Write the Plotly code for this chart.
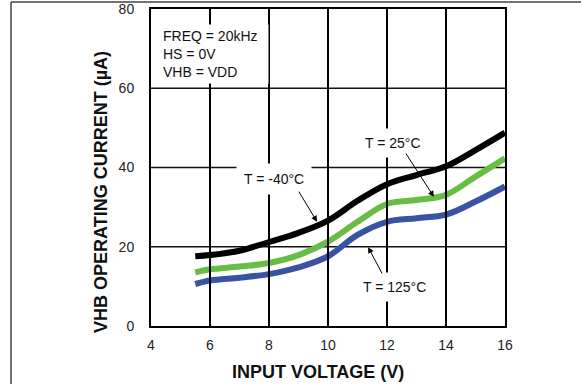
import plotly.graph_objects as go

# ---- data ----
input_voltage = [5.5, 6, 7, 8, 9, 10, 11, 12, 13, 14, 15, 16]
current_m40 = [17.6, 17.9, 19.0, 21.2, 23.5, 26.6, 31.6, 35.8, 38.1, 40.3, 44.4, 48.8]
current_25 = [13.5, 14.3, 15.0, 15.9, 17.9, 21.3, 26.3, 30.8, 31.8, 33.1, 37.7, 42.3]
current_125 = [10.6, 11.5, 12.2, 13.1, 14.8, 17.6, 23.0, 26.3, 27.2, 28.1, 31.4, 35.2]

x_ticks = [4, 6, 8, 10, 12, 14, 16]
y_ticks = [0, 20, 40, 60, 80]

W, H = 581, 384
L, R, T, B = 151, 76, 9, 58
PW, PH = W - L - R, H - T - B
X_PER_PX = (x_ticks[-1] - x_ticks[0]) / PW


def px_x(p):
    return (p - L) / PW


def px_y(p):
    return (H - B - p) / PH


FONT = "Liberation Sans, Arial, sans-serif"

fig = go.Figure()

series = [
    (current_m40, "#000000", "T = -40°C"),
    (current_25, "#69bd45", "T = 25°C"),
    (current_125, "#3953a4", "T = 125°C"),
]
for ys, col, name in series:
    fig.add_trace(go.Scatter(
        x=input_voltage, y=ys, mode="lines", name=name,
        line=dict(color=col, width=6, shape="spline", smoothing=1.0),
        showlegend=False, hoverinfo="skip",
    ))

axis_common = dict(
    showline=True, linecolor="black", linewidth=2, mirror=True,
    showgrid=False, zeroline=False, ticks="", automargin=False,
    tickfont=dict(family=FONT, size=14, color="#222"),
)
fig.update_xaxes(range=[4, 16], tickvals=x_ticks, ticklabelstandoff=5, **axis_common)
fig.update_yaxes(range=[0, 80], tickvals=y_ticks, ticklabelstandoff=12, **axis_common)

shapes = []
# vertical grid lines (paper-referenced in y, positioned by the x axis)
for xv in x_ticks[1:-1]:
    shapes.append(dict(type="line", xref="x", yref="paper",
                       x0=xv, x1=xv, y0=0, y1=1,
                       line=dict(color="#000000", width=2), layer="above"))
# horizontal grid lines
for yv in y_ticks[1:-1]:
    shapes.append(dict(type="line", xref="x", yref="y", x0=x_ticks[0], x1=x_ticks[-1],
                       y0=yv, y1=yv,
                       line=dict(color="#111111", width=1.3), layer="below"))
# outer frame lines
shapes += [
    dict(type="line", xref="paper", yref="paper", x0=px_x(11), x1=px_x(W + 5),
         y0=px_y(2), y1=px_y(2), line=dict(color="#444", width=1.5)),
    dict(type="line", xref="paper", yref="paper", x0=px_x(11), x1=px_x(11),
         y0=px_y(2), y1=px_y(H + 5), line=dict(color="#444", width=1.5)),
]

ann_font = dict(family=FONT, size=14, color="#111")
annotations = [
    # white box behind condition text
    dict(x=px_x(210), y=px_y(54), xref="paper", yref="paper", xanchor="center", yanchor="middle",
         showarrow=False, text=" ", width=115, height=58, borderpad=0, bgcolor="white"),
    dict(x=px_x(161), y=px_y(54.3), xref="paper", yref="paper", xanchor="left", yanchor="middle",
         align="left", showarrow=False, font=ann_font,
         text="FREQ = 20kHz<br>HS = 0V<br>VHB = VDD"),
    dict(x=8.17, y=37.1, xref="x", yref="y", xanchor="center", yanchor="middle",
         showarrow=False, font=ann_font,
         text="T = -40°C", bgcolor="white", borderpad=7),
    dict(x=12.2, y=46.2, xref="x", yref="y", xanchor="center", yanchor="middle",
         showarrow=False, font=ann_font,
         text="T = 25°C", bgcolor="white", borderpad=6),
    dict(x=12.27, y=9.85, xref="x", yref="y", xanchor="center", yanchor="middle",
         showarrow=False, font=ann_font,
         text="T = 125°C", bgcolor="white", borderpad=6),
    # arrows
    dict(x=9.63, y=26.3, ax=8.98, ay=34.3, xref="x", yref="y", axref="x", ayref="y",
         text="", showarrow=True, arrowhead=2, arrowsize=1.2, arrowwidth=1, arrowcolor="black"),
    dict(x=13.59, y=32.6, ax=12.61, ay=43.9, xref="x", yref="y", axref="x", ayref="y",
         text="", showarrow=True, arrowhead=2, arrowsize=1.2, arrowwidth=1, arrowcolor="black"),
    dict(x=11.36, y=19.9, ax=11.86, ay=12.9, xref="x", yref="y", axref="x", ayref="y",
         text="", showarrow=True, arrowhead=2, arrowsize=1.2, arrowwidth=1, arrowcolor="black"),
    # axis titles
    dict(x=px_x(318), y=px_y(372), xref="paper", yref="paper", xanchor="center", yanchor="middle",
         showarrow=False,
         text="<b>INPUT VOLTAGE (V)</b>", font=dict(family=FONT, size=18, color="#111")),
    dict(x=px_x(101), y=px_y(192), xref="paper", yref="paper", xanchor="center", yanchor="middle",
         showarrow=False, textangle=-90,
         text="<b>VHB OPERATING CURRENT (µA)</b>", font=dict(family=FONT, size=18, color="#111")),
]

fig.update_layout(
    width=W, height=H,
    margin=dict(l=L, r=R, t=T, b=B, pad=0),
    paper_bgcolor="white", plot_bgcolor="white",
    shapes=shapes, annotations=annotations,
    showlegend=False,
)

fig.write_html("out.html", config={"displayModeBar": False})
